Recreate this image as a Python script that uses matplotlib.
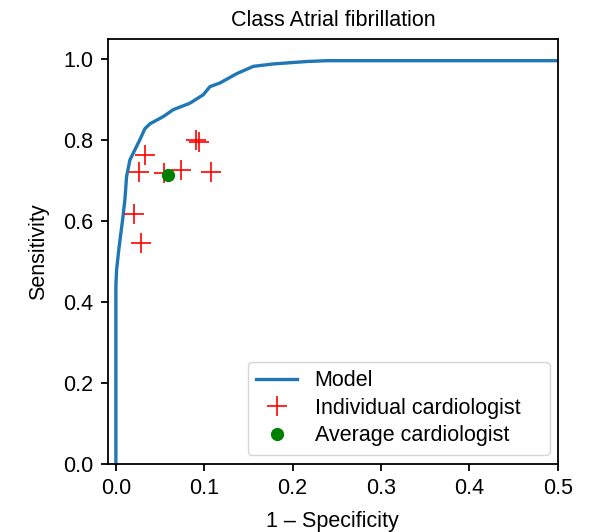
import matplotlib
matplotlib.use("Agg")
import matplotlib.pyplot as plt

plt.rcParams['font.family'] = ['Liberation Sans', 'DejaVu Sans']

# curva ROC do modelo
fpr_modelo = [0.0, 0.0, 0.0008, 0.0037, 0.0076, 0.0102, 0.0121, 0.0159, 0.0215,
              0.0272, 0.0328, 0.0385, 0.0536, 0.0649, 0.0838, 0.0989, 0.1065,
              0.1178, 0.1367, 0.1555, 0.1782, 0.2160, 0.2386, 1.0]
tpr_modelo = [0.0, 0.44, 0.48, 0.537, 0.603, 0.653, 0.710, 0.751, 0.776,
              0.801, 0.828, 0.840, 0.858, 0.875, 0.891, 0.912, 0.932,
              0.941, 0.964, 0.982, 0.988, 0.994, 0.996, 0.996]

# cardiologistas individuais
fpr_cardio = [0.0328, 0.0264, 0.0544, 0.0732, 0.0905, 0.0945, 0.1072, 0.0208, 0.0279]
tpr_cardio = [0.764, 0.722, 0.718, 0.727, 0.801, 0.796, 0.720, 0.617, 0.545]

# media dos cardiologistas
fpr_media = [0.0585]
tpr_media = [0.713]

fig = plt.figure(figsize=(6.03, 5.32), dpi=100)
ax = fig.add_axes([0.179, 0.128, 0.746, 0.799])

ax.plot(fpr_modelo, tpr_modelo, color="#1f77b4", lw=2.4, label="Model")
ax.plot(fpr_cardio, tpr_cardio, "+", color="red", ms=14, mew=1.2,
        label="Individual cardiologist")
ax.plot(fpr_media, tpr_media, "o", color="green", ms=8.5, ls="none",
        label="Average cardiologist")

ax.set_xlim(-0.009, 0.5)
ax.set_ylim(0, 1.05)
ax.set_xticks([0.0, 0.1, 0.2, 0.3, 0.4, 0.5])
ax.set_yticks([0.0, 0.2, 0.4, 0.6, 0.8, 1.0])
ax.tick_params(labelsize=15.5, width=1.3, length=5, pad=5.5)
for s in ax.spines.values():
    s.set_linewidth(1.3)

ax.set_title("Class Atrial fibrillation", fontsize=15.5, pad=9.5)
ax.set_xlabel("1 \u2013 Specificity", fontsize=15.5, labelpad=8)
ax.set_ylabel("Sensitivity", fontsize=15.5, labelpad=10)

# legenda com a mesma caixa da figura original
ax.legend(loc="lower left", bbox_to_anchor=(0.311, 0.021, 0.671, 0.2),
          mode="expand", borderaxespad=0, fontsize=15.5, labelspacing=0.3,
          handlelength=1.9)

fig.savefig("out.png", dpi=100)
